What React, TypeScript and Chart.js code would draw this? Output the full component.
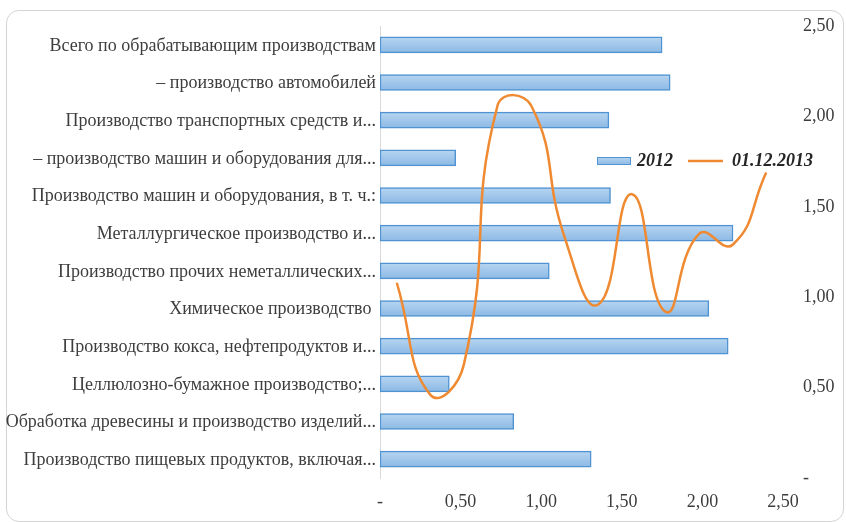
import React, { useEffect, useRef } from "react";
import { Chart, registerables } from "chart.js";

Chart.register(...registerables);

// Industries, top to bottom as they appear on the bar axis
const categories = [
  "Всего по обрабатывающим производствам",
  "– производство автомобилей",
  "Производство транспортных средств и...",
  "– производство машин и оборудования для...",
  "Производство машин и оборудования, в т. ч.:",
  "Металлургическое производство и...",
  "Производство прочих неметаллических...",
  "Химическое производство ",
  "Производство кокса, нефтепродуктов и...",
  "Целлюлозно-бумажное производство;...",
  "Обработка древесины и производство изделий...",
  "Производство пищевых продуктов, включая...",
];

// 2012 values for each industry (same order as categories)
const values2012 = [1.75, 1.8, 1.42, 0.47, 1.43, 2.19, 1.05, 2.04, 2.16, 0.43, 0.83, 1.31];

// 01.12.2013 values, left to right along the secondary category axis
const lineCategories = [...categories].reverse();
const values2013 = [1.08, 0.46, 0.63, 2.06, 2.06, 1.33, 0.96, 1.57, 0.92, 1.35, 1.29, 1.69];

const seriesNames = ["2012", "01.12.2013"];

// Tick labels for both value axes (0 … 2,5 step 0,5)
const valueTickLabels = ["-", "0,50", "1,00", "1,50", "2,00", "2,50"];

const FONT = "'Liberation Serif', 'Times New Roman', serif";
const TEXT = "#3d3d3d";
const BAR_BORDER = "#4f93d2";
const LINE = "#ef8a32";

const tickLabel = (v: number | string) => {
  const i = Math.round(Number(v) / 0.5);
  return valueTickLabels[i] ?? "";
};

// Legend drawn inside the plot area
const innerLegend = {
  id: "innerLegend",
  afterDraw(chart: any) {
    const ctx = chart.ctx;
    const ds = chart.data.datasets;
    const y = 161;
    ctx.save();
    ctx.font = `italic bold 18px ${FONT}`;
    ctx.textBaseline = "middle";
    const g = ctx.createLinearGradient(0, y - 4, 0, y + 4);
    g.addColorStop(0, "#b7d5f1");
    g.addColorStop(1, "#8cb9e4");
    ctx.fillStyle = g;
    ctx.fillRect(597, y - 4, 34, 8);
    ctx.strokeStyle = BAR_BORDER;
    ctx.lineWidth = 1;
    ctx.strokeRect(597.5, y - 3.5, 33, 7);
    ctx.fillStyle = "#262626";
    ctx.fillText(ds[0].label, 637, y);
    ctx.strokeStyle = LINE;
    ctx.lineWidth = 2.5;
    ctx.beginPath();
    ctx.moveTo(688, y);
    ctx.lineTo(723, y);
    ctx.stroke();
    ctx.fillText(ds[1].label, 732, y);
    ctx.restore();
  },
};

export default function App() {
  const canvasRef = useRef<HTMLCanvasElement | null>(null);

  useEffect(() => {
    if (!canvasRef.current) return;
    const chart = new Chart(canvasRef.current, {
      type: "bar",
      data: {
        labels: categories,
        datasets: [
          {
            type: "bar",
            label: seriesNames[0],
            data: values2012,
            xAxisID: "x",
            yAxisID: "y",
            backgroundColor: (c: any) => {
              const ch = c.chart;
              const sy = ch.scales?.y;
              if (!sy || c.dataIndex === undefined) return "#a3c8ec";
              const yc = sy.getPixelForValue(c.dataIndex);
              if (!Number.isFinite(yc)) return "#a3c8ec";
              const g = ch.ctx.createLinearGradient(0, yc - 8, 0, yc + 8);
              g.addColorStop(0, "#b7d5f1");
              g.addColorStop(1, "#8cb9e4");
              return g;
            },
            borderColor: BAR_BORDER,
            borderWidth: 1.5,
            borderSkipped: false,
            barThickness: 16,
            grouped: false,
            order: 2,
          } as any,
          {
            type: "line",
            label: seriesNames[1],
            data: values2013,
            indexAxis: "x",
            xAxisID: "x2",
            yAxisID: "y2",
            borderColor: LINE,
            borderWidth: 2.5,
            pointRadius: 0,
            tension: 0.5,
            fill: false,
            order: 1,
          } as any,
        ],
      },
      options: {
        indexAxis: "y",
        animation: false,
        responsive: false,
        layout: { padding: { top: 26, left: 0, right: 0, bottom: 0 } },
        plugins: {
          legend: { display: false },
          tooltip: { enabled: false },
        },
        scales: {
          x: {
            type: "linear",
            position: "bottom",
            min: 0,
            max: 2.5,
            offset: false,
            ticks: {
              stepSize: 0.5,
              padding: 13,
              color: TEXT,
              font: { family: FONT, size: 18 },
              callback: tickLabel,
            },
            grid: { display: false, drawTicks: false },
            border: { display: false },
            afterFit: (s: any) => {
              s.height = 44;
            },
          },
          y: {
            type: "category",
            position: "left",
            ticks: {
              padding: 4,
              labelOffset: 1,
              color: TEXT,
              font: { family: FONT, size: 18 },
              autoSkip: false,
            },
            grid: { display: false, drawTicks: false },
            border: { display: true, color: "#d9d9d9", width: 1 },
            afterFit: (s: any) => {
              s.width = 380;
              s.paddingTop = 0;
              s.paddingBottom = 0;
            },
          },
          x2: {
            type: "category",
            labels: lineCategories,
            offset: true,
            display: false,
          },
          y2: {
            type: "linear",
            position: "right",
            min: 0,
            max: 2.5,
            offset: false,
            ticks: {
              stepSize: 0.5,
              padding: 20,
              labelOffset: 0,
              color: TEXT,
              font: { family: FONT, size: 18 },
              callback: tickLabel,
            },
            grid: { display: false, drawTicks: false, offset: false },
            border: { display: false },
            afterFit: (s: any) => {
              s.width = 63;
              s.paddingTop = 12;
              s.paddingBottom = 12;
            },
          },
        },
      } as any,
      plugins: [innerLegend],
    });
    return () => chart.destroy();
  }, []);

  return (
    <div style={{ position: "fixed", left: 0, top: 0, width: 846, height: 522, background: "#fff" }}>
      <div
        style={{
          position: "absolute",
          left: 6,
          top: 10,
          width: 836,
          height: 510,
          border: "1px solid #d4d4d4",
          borderRadius: 13,
        }}
      />
      <canvas
        ref={canvasRef}
        width={846}
        height={522}
        style={{ position: "absolute", left: 0, top: 0, width: 846, height: 522 }}
      />
    </div>
  );
}
